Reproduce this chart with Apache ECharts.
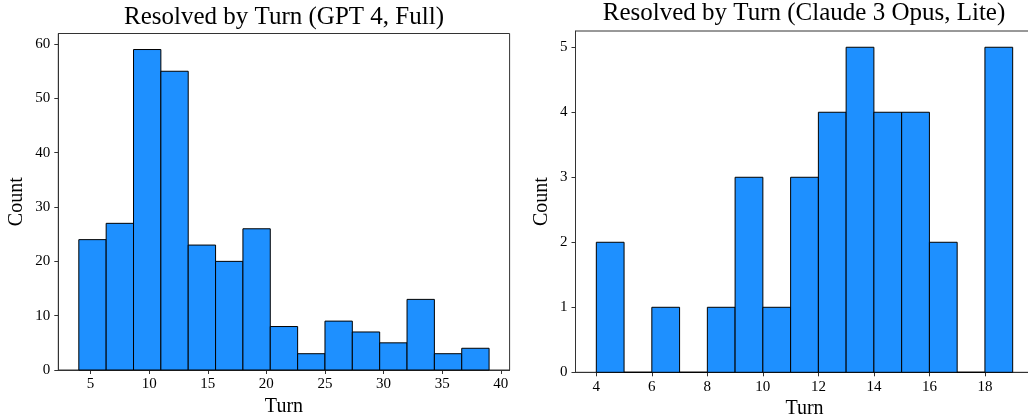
<!DOCTYPE html>
<html>
<head>
<meta charset="utf-8">
<script src="https://cdn.jsdelivr.net/npm/echarts@6/dist/echarts.min.js"></script>
<style>
html,body{margin:0;padding:0;background:#fff;}
#c{width:1028px;height:417px;}
</style>
</head>
<body>
<div id="c"></div>
<script>
// Left histogram: GPT 4, Full
const leftEdges = [4, 6.333, 8.667, 11, 13.333, 15.667, 18, 20.333, 22.667, 25, 27.333, 29.667, 32, 34.333, 36.667, 39];
const leftCounts = [24, 27, 59, 55, 23, 20, 26, 8, 3, 9, 7, 5, 13, 3, 4];
const leftXTicks = [5, 10, 15, 20, 25, 30, 35, 40];
const leftYTicks = [0, 10, 20, 30, 40, 50, 60];

// Right histogram: Claude 3 Opus, Lite
const rightEdges = [4, 5, 6, 7, 8, 9, 10, 11, 12, 13, 14, 15, 16, 17, 18, 19];
const rightCounts = [2, 0, 1, 0, 1, 3, 1, 3, 4, 5, 4, 4, 2, 0, 5];
const rightXTicks = [4, 6, 8, 10, 12, 14, 16, 18];
const rightYTicks = [0, 1, 2, 3, 4, 5];

const titles = ['Resolved by Turn (GPT 4, Full)', 'Resolved by Turn (Claude 3 Opus, Lite)'];

function binData(edges, counts) {
  return counts.map((c, i) => [edges[i], edges[i + 1], c]);
}

const FONT = 'Liberation Serif';
const SPINE = '#333';

function renderBar(params, api) {
  const p0 = api.coord([api.value(0), 0]);
  const p1 = api.coord([api.value(1), api.value(2)]);
  return {
    type: 'rect',
    shape: { x: p0[0], y: p1[1], width: p1[0] - p0[0], height: p0[1] - p1[1] },
    style: { fill: '#1E90FF', stroke: '#000', lineWidth: 1 }
  };
}

function xAxis(gridIndex, min, max, ticks, nameGap) {
  return {
    type: 'value', gridIndex, min, max,
    name: 'Turn', nameLocation: 'middle', nameGap,
    nameTextStyle: { fontFamily: FONT, fontSize: 20, color: '#000' },
    splitLine: { show: false },
    axisLine: { show: true, lineStyle: { color: SPINE, width: 1 } },
    axisTick: { show: true, inside: false, length: 4, customValues: ticks, lineStyle: { color: SPINE } },
    axisLabel: { customValues: ticks, margin: 7, fontFamily: FONT, fontSize: 15, color: '#000' }
  };
}
function yAxis(gridIndex, min, max, ticks, nameGap) {
  return {
    type: 'value', gridIndex, min, max,
    name: 'Count', nameLocation: 'middle', nameGap,
    nameTextStyle: { fontFamily: FONT, fontSize: 20, color: '#000' },
    splitLine: { show: false },
    axisLine: { show: true, lineStyle: { color: SPINE, width: 1 } },
    axisTick: { show: true, inside: false, length: 4, customValues: ticks, lineStyle: { color: SPINE } },
    axisLabel: { customValues: ticks, margin: 8, fontFamily: FONT, fontSize: 15, color: '#000' }
  };
}

const chart = echarts.init(document.getElementById('c'), null, { renderer: 'canvas' });
chart.setOption({
  backgroundColor: '#fff',
  animation: false,
  title: [
    { text: titles[0], left: 284, top: 5, textAlign: 'center', padding: 0,
      textStyle: { fontFamily: FONT, fontSize: 25, fontWeight: 'normal', color: '#000' } },
    { text: titles[1], left: 804, top: 1, textAlign: 'center', padding: 0,
      textStyle: { fontFamily: FONT, fontSize: 25, fontWeight: 'normal', color: '#000' } }
  ],
  grid: [
    { left: 58.3, top: 33.5, width: 451.3, height: 336.5, show: true, borderColor: SPINE, borderWidth: 1,
      backgroundColor: 'transparent', outerBoundsMode: 'none', containLabel: false },
    { left: 575.5, top: 31, width: 458, height: 341.3, show: true, borderColor: SPINE, borderWidth: 1,
      backgroundColor: 'transparent', outerBoundsMode: 'none', containLabel: false }
  ],
  xAxis: [
    xAxis(0, 2.25, 40.75, leftXTicks, 24.5),
    xAxis(1, 3.25, 19.75, rightXTicks, 25)
  ],
  yAxis: [
    yAxis(0, 0, 61.95, leftYTicks, 31.5),
    yAxis(1, 0, 5.25, rightYTicks, 23.5)
  ],
  series: [
    { type: 'custom', xAxisIndex: 0, yAxisIndex: 0, renderItem: renderBar,
      encode: { x: [0, 1], y: 2 }, data: binData(leftEdges, leftCounts) },
    { type: 'custom', xAxisIndex: 1, yAxisIndex: 1, renderItem: renderBar,
      encode: { x: [0, 1], y: 2 }, data: binData(rightEdges, rightCounts) }
  ]
});
</script>
</body>
</html>
